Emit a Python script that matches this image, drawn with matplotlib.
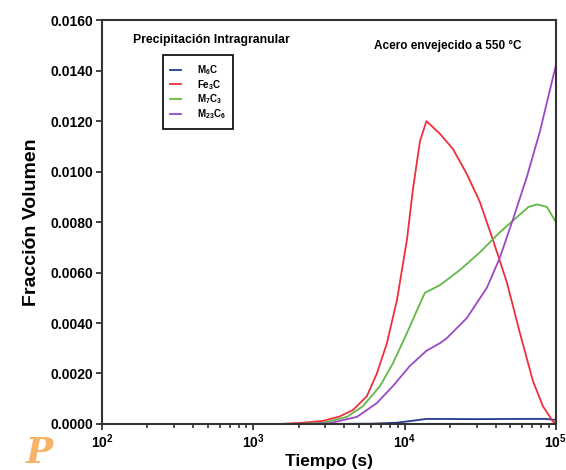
import matplotlib
matplotlib.use("Agg")
import matplotlib.pyplot as plt
import matplotlib.ticker as mticker

# Data (time in s, volume fraction)
t_red = [1500, 2040, 2890, 3740, 4560, 5640, 6570, 7650, 8910, 10380, 11370, 12650,
         13960, 17140, 20880, 25840, 31470, 38390, 47540, 57930, 70630, 82220, 95700, 100000]
fe3c = [0.0, 0.00004, 0.00012, 0.0003, 0.00055, 0.0011, 0.0020, 0.0032, 0.0049, 0.0073,
        0.0093, 0.0112, 0.0120, 0.0115, 0.0109, 0.0099, 0.0088, 0.0073, 0.0056, 0.0036,
        0.0017, 0.0007, 0.0001, 0.0]

t_green = [2000, 2890, 4160, 5310, 6880, 8380, 10380, 12080, 13650, 17140, 23230,
           31470, 42750, 57930, 66000, 75060, 87350, 100000]
m7c3 = [0.0, 0.00004, 0.00028, 0.0007, 0.0015, 0.0024, 0.0036, 0.0045, 0.0052, 0.0055,
        0.0061, 0.0068, 0.0076, 0.0083, 0.0086, 0.0087, 0.0086, 0.0080]

t_purple = [2200, 3210, 4850, 6570, 8380, 10860, 13960, 17140, 19050, 25840, 35060,
            42750, 52030, 64440, 78560, 100000]
m23c6 = [0.0, 0.00003, 0.00028, 0.00083, 0.0015, 0.0023, 0.0029, 0.0032, 0.0034, 0.0042,
         0.0054, 0.0066, 0.0081, 0.0098, 0.0116, 0.0142]

t_blue = [3000, 6000, 8900, 11400, 13960, 30000, 60000, 85000, 100000]
m6c = [0.0, 0.00001, 0.00005, 0.00013, 0.0002, 0.00019, 0.0002, 0.0002, 0.00016]

plt.rcParams.update({
    "font.family": "Liberation Sans",
    "font.weight": "bold",
    "mathtext.fontset": "custom",
    "mathtext.rm": "Liberation Sans:bold",
    "mathtext.it": "Liberation Sans:bold",
    "mathtext.bf": "Liberation Sans:bold",
    "axes.linewidth": 1.5,
    "axes.edgecolor": "#333333",
})

fig = plt.figure(figsize=(5.66, 4.70), dpi=100)
ax = fig.add_axes([0.180, 0.098, 0.802, 0.859])

ax.plot(t_blue, m6c, color="#2b3a8f", lw=1.3, label=r"M$_6$C")
ax.plot(t_red, fe3c, color="#ee2f3c", lw=1.3, label=r"Fe$_3$C")
ax.plot(t_green, m7c3, color="#62b845", lw=1.3, label=r"M$_7$C$_3$")
ax.plot(t_purple, m23c6, color="#9a48c8", lw=1.3, label=r"M$_{23}$C$_6$")

ax.set_xscale("log")
ax.set_xlim(100, 100000)
ax.set_ylim(0, 0.016)
ax.yaxis.set_major_locator(mticker.MultipleLocator(0.002))
ax.yaxis.set_major_formatter(mticker.FuncFormatter(lambda v, _: f"{v:.4f}"))
ax.tick_params(axis="both", which="major", direction="out", length=4, width=1.3,
               labelsize=10, colors="#333333", labelcolor="black", pad=2)
ax.tick_params(axis="x", which="minor", direction="out", length=3, width=1.2, colors="#333333")
for lab in ax.get_xticklabels() + ax.get_yticklabels():
    lab.set_fontweight("bold")

ax.set_xlabel("Tiempo (s)", fontsize=12.5, fontweight="bold", labelpad=2)
ax.set_ylabel("Fracción Volumen", fontsize=14, fontweight="bold", labelpad=8)

ax.text(0.068, 0.952, "Precipitación Intragranular", transform=ax.transAxes,
        fontsize=8.8, fontweight="bold", va="center")
ax.text(0.600, 0.937, "Acero envejecido a 550 °C", transform=ax.transAxes,
        fontsize=8.5, fontweight="bold", va="center")

leg = ax.legend(loc="upper left", bbox_to_anchor=(0.134, 0.913), fontsize=7,
                fancybox=False, framealpha=1, edgecolor="black", borderaxespad=0,
                handlelength=1.1, handletextpad=1.6, borderpad=0.8, labelspacing=0.1)
leg.get_frame().set_linewidth(1.2)

fig.text(0.045, 0.015, "P", color="#f5a040", fontsize=26, style="italic",
         family="DejaVu Serif", alpha=0.8)

fig.savefig("out.png", dpi=100)
